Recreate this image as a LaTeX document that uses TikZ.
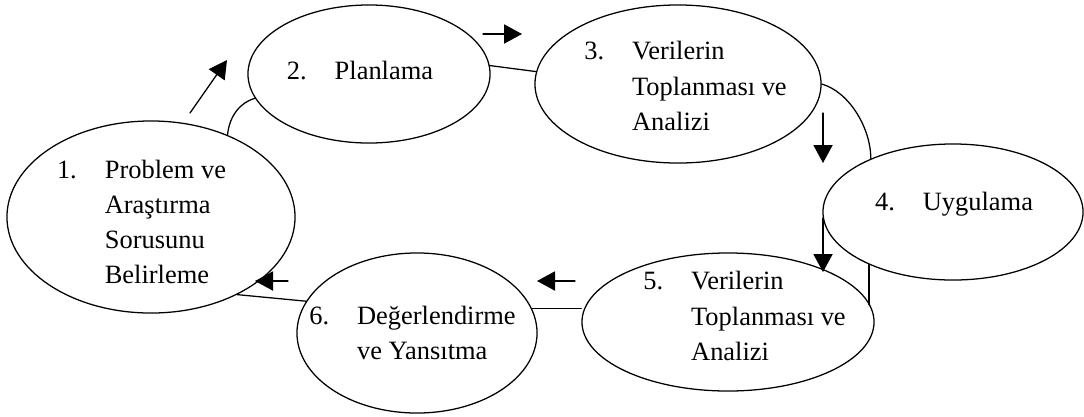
\documentclass[tikz,border=0pt]{standalone}
\usepackage{fontspec}
\setmainfont{Liberation Serif}
\usetikzlibrary{shapes.geometric,arrows.meta}
\begin{document}
\begin{tikzpicture}[x=0.025cm,y=-0.025cm,line join=round,line cap=round,>={Triangle[length=4.5mm,width=4.8mm]},
	phase/.style={draw,ellipse,line width=0.9pt,inner sep=0pt},
	phasetext/.style={inner sep=0pt,font=\fontsize{18.8}{24.9}\selectfont},
	joint/.style={line width=0.9pt}]
	\useasboundingbox (0,0) rectangle (1084,416);
	% Evreler
	\node[phase,minimum width=7.2cm,minimum height=4.8cm] (e1) at (151,217) {};
	\node[phase,minimum width=6.05cm,minimum height=3.45cm] (e2) at (369,74) {};
	\node[phase,minimum width=7.15cm,minimum height=3.95cm] (e3) at (678,84) {};
	\node[phase,minimum width=6.5cm,minimum height=3.4cm] (e4) at (953,212) {};
	\node[phase,minimum width=7.3cm,minimum height=3.45cm] (e5) at (728,322) {};
	\node[phase,minimum width=6cm,minimum height=4cm] (e6) at (417,333) {};
	% Metinler
	\node[phasetext] (t1) at (141.5,224) {\begin{tabular}{@{}l@{\hspace{0.7cm}}l@{}}1.&Problem ve\\&Araştırma\\&Sorusunu\\&Belirleme\end{tabular}};
	\node[phasetext] (t2) at (360,72) {\begin{tabular}{@{}l@{\hspace{0.7cm}}l@{}}2.&Planlama\end{tabular}};
	\node[phasetext] (t3) at (685.5,88) {\begin{tabular}{@{}l@{\hspace{0.7cm}}l@{}}3.&Verilerin\\&Toplanması ve\\&Analizi\end{tabular}};
	\node[phasetext] (t4) at (954,203) {\begin{tabular}{@{}l@{\hspace{0.7cm}}l@{}}4.&Uygulama\end{tabular}};
	\node[phasetext] (t5) at (744.5,318) {\begin{tabular}{@{}l@{\hspace{0.7cm}}l@{}}5.&Verilerin\\&Toplanması ve\\&Analizi\end{tabular}};
	\node[phasetext] (t6) at (412.5,335) {\begin{tabular}{@{}l@{\hspace{0.7cm}}l@{}}6.&Değerlendirme\\&ve Yansıtma\end{tabular}};
	% Bağlantılar
	\draw[joint] (e1.47) .. controls +(2,-20) and +(-14,4) .. (e2.-168);
	\draw[joint] (e2.4) -- (e3.175);
	\draw[joint] (e3.0) .. controls +(28,8) and +(0,-30) .. (e4.147);
	\draw[joint] (e4.212) -- (e4.212 |- e5.7);
	\draw[joint] (e6.12) -- (e6.12 -| e5.west);
	\draw[joint] (e1.-42) -- (e6.164);
	% Oklar
	\path (190,113) coordinate (A1) (227,60) coordinate (B1)
	(483,34) coordinate (A2) (522,34) coordinate (B2)
	(823,113) coordinate (A3) (823,163) coordinate (B3)
	(823,218) coordinate (A4) (823,272) coordinate (B4)
	(575,281) coordinate (A5) (537,281) coordinate (B5)
	(288,281) coordinate (A6) (255,281) coordinate (B6)
	;
	\foreach \i in {1,...,6}
	\draw[joint,->] (A\i) -- (B\i);
\end{tikzpicture}
\end{document}
